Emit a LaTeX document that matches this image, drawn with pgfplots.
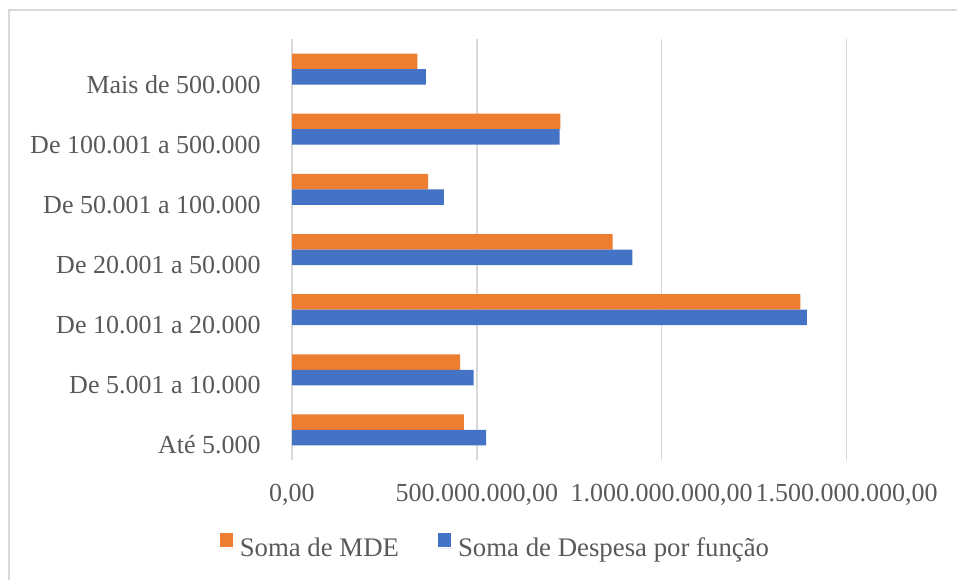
\documentclass[border=0pt]{standalone}
\usepackage{fontspec}
\setmainfont{Liberation Serif}
\usepackage{pgfplots}
\pgfplotsset{compat=1.18}
\definecolor{cOrange}{HTML}{ED7D31}
\definecolor{cBlue}{HTML}{4472C4}
\definecolor{cGrid}{HTML}{D9D9D9}
\definecolor{cText}{HTML}{595959}
\begin{document}
\begin{tikzpicture}[x=1pt,y=1pt]
\path[use as bounding box] (0,0) rectangle (478.5,290);
\draw[cGrid, line width=0.75pt] (4.5,0) -- (4.5,285) -- (478.5,285);
\begin{axis}[
  at={(146pt,60pt)}, anchor=south west,
  scale only axis, width=277.25pt, height=210.5pt,
  xmin=0, xmax=1500000000, ymin=-0.5, ymax=6.5,
  xbar, bar width=7.75pt,
  axis line style={draw=none},
  xmajorgrids, grid style={cGrid, line width=0.8pt},
  major tick length=0pt, tick style={draw=none},
  scaled x ticks=false,
  xtick={0,500000000,1000000000,1500000000},
  xticklabels={{0,00},{500.000.000,00},{1.000.000.000,00},{1.500.000.000,00}},
  ytick={0,1,2,3,4,5,6},
  yticklabels={Até 5.000, De 5.001 a 10.000, De 10.001 a 20.000, De 20.001 a 50.000, De 50.001 a 100.000, De 100.001 a 500.000, Mais de 500.000},
  every tick label/.append style={font=\fontsize{13}{15}\selectfont, text=cText},
  xticklabel style={anchor=base, inner sep=0pt, yshift=-20.5pt},
  yticklabel style={anchor=base east, inner sep=0pt, xshift=-15.5pt, yshift=-12pt},
  legend columns=2,
  legend image code/.code={\path (0pt,0pt) -- (8pt,0pt); \fill[#1] (0pt,0.83pt) rectangle (6.67pt,7.5pt);},
  legend style={draw=none, fill=none, at={(-0.131,-0.21)}, anchor=west,
    inner sep=0pt, font=\fontsize{13.4}{15}\selectfont, text=cText,
    /tikz/every even column/.append style={column sep=17.5pt}},
]
\addplot[fill=cOrange, draw=none, bar shift=3.875pt] coordinates {
  (465000000,0) (455000000,1) (1375000000,2) (867000000,3) (368000000,4) (726000000,5) (339000000,6)};
\addlegendentry{Soma de MDE}
\addplot[fill=cBlue, draw=none, bar shift=-3.875pt] coordinates {
  (525000000,0) (491000000,1) (1393000000,2) (921000000,3) (411000000,4) (724000000,5) (362000000,6)};
\addlegendentry{Soma de Despesa por função}
\end{axis}
\end{tikzpicture}
\end{document}
